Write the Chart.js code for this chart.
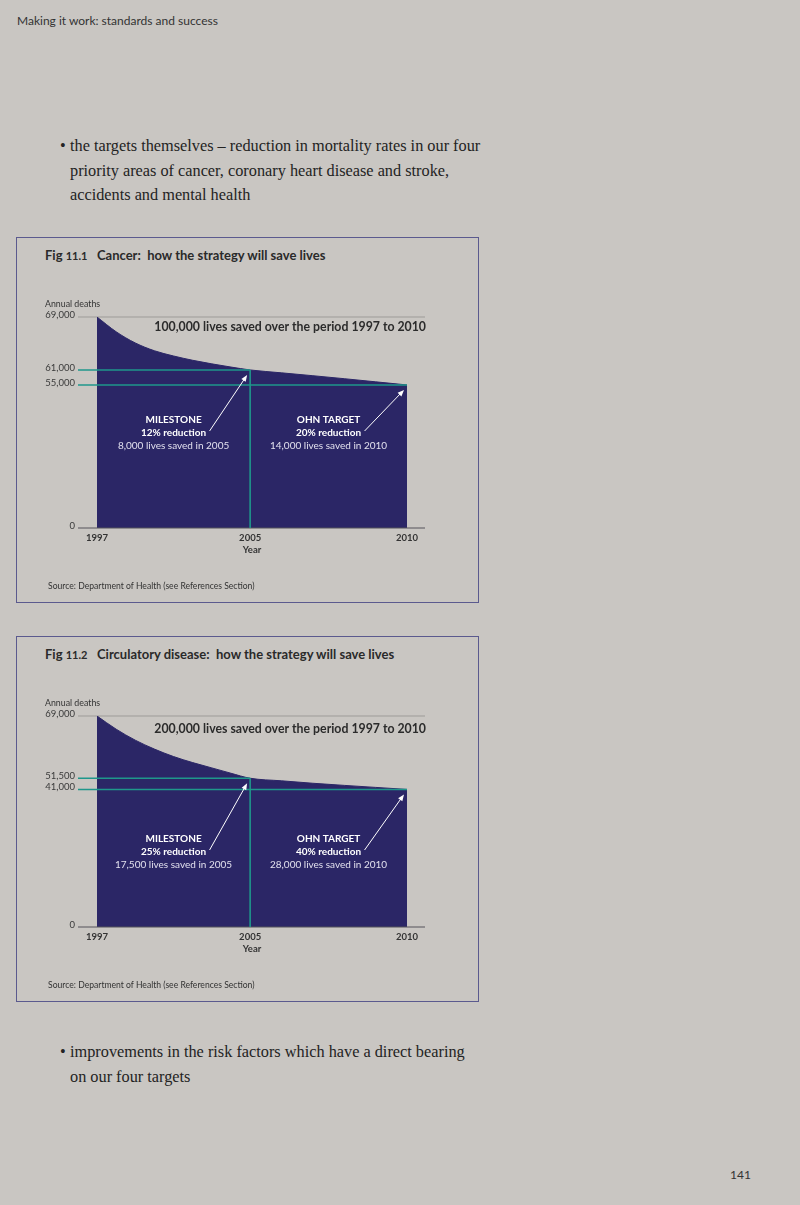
<!DOCTYPE html>
<html>
<head>
<meta charset="utf-8">
<script src="https://cdn.jsdelivr.net/npm/chart.js@4.4.1/dist/chart.umd.min.js"></script>
<style>
  body { margin: 0; width: 800px; height: 1205px; background: #c9c6c2; position: relative; overflow: hidden;
         font-family: Lato, 'Open Sans', sans-serif; color: #2a2a2a; }
  .abs { position: absolute; white-space: nowrap; }
  .header { left: 17px; top: 14px; font-size: 12px; line-height: 14.4px; color: #333; }
  .body { left: 70px; font-family: 'Liberation Serif', serif; font-size: 16.3px; line-height: 24.5px; color: #232323; }
  .bullet { position: absolute; left: -10px; top: 0; }
  .box { position: absolute; left: 16px; width: 463px; height: 366px; box-sizing: border-box; border: 1.5px solid #5b5a8e; }
  .ftitle { left: 45px; font-size: 13px; font-weight: bold; line-height: 16px; }
  .ftitle .num { display: inline-block; width: 52px; }
  .ftitle .num small { font-size: 11px; }
  .src { left: 48px; font-size: 8.6px; line-height: 11px; color: #333; }
  canvas.fig { position: absolute; left: 17px; width: 461px; height: 364px; }
  .folio { left: 730px; top: 1168px; font-size: 12px; line-height: 14.4px; color: #333; }
</style>
</head>
<body>
<div class="abs header">Making it work: standards and success</div>

<div class="abs body" style="top:134px"><span class="bullet">•</span>the targets themselves – reduction in mortality rates in our four<br>priority areas of cancer, coronary heart disease and stroke,<br>accidents and mental health</div>

<div class="box" style="top:237px"></div>
<div class="abs ftitle" style="top:247px"><span class="num">Fig <small>11.1</small></span>Cancer:&nbsp; how the strategy will save lives</div>
<canvas class="fig" id="cancerChart" width="461" height="364" style="top:238px"></canvas>
<div class="abs src" style="top:581px">Source: Department of Health (see References Section)</div>

<div class="box" style="top:636px"></div>
<div class="abs ftitle" style="top:646px"><span class="num">Fig <small>11.2</small></span>Circulatory disease:&nbsp; how the strategy will save lives</div>
<canvas class="fig" id="circulatoryChart" width="461" height="364" style="top:637px"></canvas>
<div class="abs src" style="top:980px">Source: Department of Health (see References Section)</div>

<div class="abs body" style="top:1040px"><span class="bullet">•</span>improvements in the risk factors which have a direct bearing<br>on our four targets</div>

<div class="abs folio">141</div>

<script>
// Data
const years = [1997, 1998, 1999, 2000, 2001, 2002, 2003, 2004, 2005, 2006, 2007, 2008, 2009, 2010];
const cancerDeaths = [69000, 66770, 65080, 63900, 63110, 62460, 61920, 61440, 61000, 59850, 58700, 57500, 56250, 55000];
const circulatoryDeaths = [69000, 65300, 62200, 59700, 57600, 55900, 54400, 52900, 51500, 49100, 46800, 44800, 42900, 41000];

const yearTicks = [1997, 2005, 2010];
const cancerTicks = [0, 55000, 61000, 69000];
const circulatoryTicks = [0, 41000, 51500, 69000];

const milestoneYear = 2005;
const targetYear = 2010;

const cancerMilestone = ['MILESTONE', '12% reduction', '8,000 lives saved in 2005'];
const cancerTarget = ['OHN TARGET', '20% reduction', '14,000 lives saved in 2010'];
const circulatoryMilestone = ['MILESTONE', '25% reduction', '17,500 lives saved in 2005'];
const circulatoryTarget = ['OHN TARGET', '40% reduction', '28,000 lives saved in 2010'];

const INDIGO = '#2b2666';
const TEAL = '#1f978b';

// The printed axes are not to scale: a linear scale that maps its
// breakpoints onto chosen fractions of the axis, linear in between.
class PiecewiseScale extends Chart.LinearScale {
    static id = 'piecewise';

    fraction(value) {
        const b = this.options.breaks, f = this.options.fractions;
        let i = 1;
        while (i < b.length - 1 && value > b[i]) i++;
        return f[i - 1] + (value - b[i - 1]) / (b[i] - b[i - 1]) * (f[i] - f[i - 1]);
    }

    getPixelForValue(value) {
        if (value === null || value === undefined || isNaN(value)) return NaN;
        return this.getPixelForDecimal(this.fraction(value));
    }

    getValueForPixel(pixel) {
        const d = this.getDecimalForPixel(pixel);
        const b = this.options.breaks, f = this.options.fractions;
        let i = 1;
        while (i < f.length - 1 && d > f[i]) i++;
        return b[i - 1] + (d - f[i - 1]) / (f[i] - f[i - 1]) * (b[i] - b[i - 1]);
    }
}
Chart.register(PiecewiseScale);

function rule(ctx, x1, x2, y, color, width) {
    ctx.save();
    ctx.strokeStyle = color;
    ctx.lineWidth = width;
    ctx.beginPath();
    ctx.moveTo(x1, y);
    ctx.lineTo(x2, y);
    ctx.stroke();
    ctx.restore();
}

function label(ctx, str, x, y, font, color, align) {
    ctx.save();
    ctx.font = font;
    ctx.fillStyle = color;
    ctx.textAlign = align;
    ctx.textBaseline = 'middle';
    ctx.fillText(str, x, y);
    ctx.restore();
}

function arrow(ctx, x1, y1, x2, y2) {
    const a = Math.atan2(y2 - y1, x2 - x1);
    const c = Math.cos(a), s = Math.sin(a);
    ctx.save();
    ctx.strokeStyle = '#ffffff';
    ctx.fillStyle = '#ffffff';
    ctx.lineWidth = 1;
    ctx.beginPath();
    ctx.moveTo(x1, y1);
    ctx.lineTo(x2 - 4 * c, y2 - 4 * s);
    ctx.stroke();
    ctx.beginPath();
    ctx.moveTo(x2, y2);
    ctx.lineTo(x2 - 6.5 * c + 2.6 * s, y2 - 6.5 * s - 2.6 * c);
    ctx.lineTo(x2 - 6.5 * c - 2.6 * s, y2 - 6.5 * s + 2.6 * c);
    ctx.closePath();
    ctx.fill();
    ctx.restore();
}

function notesPlugin(fig) {
    return {
        id: 'figureNotes',
        beforeDatasetsDraw(chart) {
            const { ctx, chartArea: a, scales: { y } } = chart;
            rule(ctx, a.left - 19, a.right + 18, y.getPixelForValue(y.max), '#9d9b98', 1);
        },
        afterDatasetsDraw(chart) {
            const { ctx, chartArea: a, scales: { x, y } } = chart;
            const y0 = y.getPixelForValue(0);
            rule(ctx, a.left - 19, a.right + 18, y0, '#55535a', 1);

            const xs = x.getPixelForValue(years[0]);
            const xm = x.getPixelForValue(milestoneYear);
            const ym = y.getPixelForValue(fig.deaths[years.indexOf(milestoneYear)]);
            const xt = x.getPixelForValue(targetYear);
            const yt = y.getPixelForValue(fig.deaths[years.indexOf(targetYear)]);

            rule(ctx, a.left - 19, xm, ym, TEAL, 1.6);
            rule(ctx, a.left - 19, xt, yt, TEAL, 1.6);
            ctx.save();
            ctx.strokeStyle = TEAL;
            ctx.lineWidth = 1.6;
            ctx.beginPath();
            ctx.moveTo(xm, ym);
            ctx.lineTo(xm, y0);
            ctx.stroke();
            ctx.restore();

            label(ctx, 'Annual deaths', 28, a.top - 13, '8.8px Lato', '#333333', 'left');
            label(ctx, fig.headline, a.right + 19, a.top + fig.headlineDy, 'bold 12.3px Lato', '#2b2b2b', 'right');
            label(ctx, 'Year', (a.left + a.right) / 2, a.bottom + 22, 'bold 9.5px Lato', '#333333', 'center');

            const ly = a.top + fig.noteDy;
            [[fig.milestone, (xs + xm) / 2, xm, ym], [fig.target, (xm + xt) / 2, xt, yt]].forEach(([lines, cx, tx, ty]) => {
                lines.forEach((s, i) => {
                    label(ctx, s, cx, ly + i * 12.8, (i < 2 ? 'bold ' : '') + '10px Lato',
                        i < 2 ? '#ffffff' : '#e2e0ee', 'center');
                });
                arrow(ctx, cx + 36, ly + 11, tx - 3, ty + 5);
            });
        }
    };
}

function makeChart(canvasId, deaths, valueTicks, valueFractions, fig) {
    new Chart(document.getElementById(canvasId), {
        type: 'line',
        data: {
            datasets: [{
                data: years.map((yr, i) => ({ x: yr, y: deaths[i] })),
                fill: 'origin',
                backgroundColor: INDIGO,
                borderColor: INDIGO,
                borderWidth: 1,
                pointRadius: 0,
                cubicInterpolationMode: 'monotone'
            }]
        },
        options: {
            responsive: false,
            animation: false,
            events: [],
            layout: { padding: { top: 79, right: 71, bottom: 0, left: 0 } },
            plugins: { legend: { display: false }, tooltip: { enabled: false } },
            scales: {
                x: {
                    type: 'piecewise',
                    min: yearTicks[0],
                    max: yearTicks[yearTicks.length - 1],
                    breaks: yearTicks,
                    fractions: [0, 0.494, 1],
                    afterBuildTicks: s => { s.ticks = yearTicks.map(v => ({ value: v })); },
                    afterFit: s => { s.height = 74; },
                    grid: { display: false, drawTicks: false },
                    border: { display: false },
                    ticks: {
                        autoSkip: false, maxRotation: 0, padding: 4, color: '#333333',
                        font: { family: 'Lato', size: 9.5, weight: 'bold' },
                        callback: v => String(v)
                    }
                },
                y: {
                    type: 'piecewise',
                    min: valueTicks[0],
                    max: valueTicks[valueTicks.length - 1],
                    breaks: valueTicks,
                    fractions: valueFractions,
                    afterBuildTicks: s => { s.ticks = valueTicks.map(v => ({ value: v })); },
                    afterFit: s => { s.width = 80; },
                    grid: { display: false, drawTicks: false },
                    border: { display: false },
                    ticks: {
                        autoSkip: false, padding: 22, labelOffset: -2, color: '#3a3a3a',
                        font: { family: 'Lato', size: 9.5 },
                        callback: v => v.toLocaleString('en-US')
                    }
                }
            }
        },
        plugins: [notesPlugin(fig)]
    });
}

makeChart('cancerChart', cancerDeaths, cancerTicks, [0, 0.678, 0.749, 1], {
    deaths: cancerDeaths,
    milestone: cancerMilestone,
    target: cancerTarget,
    headline: '100,000 lives saved over the period 1997 to 2010',
    headlineDy: 10,
    noteDy: 103
});

makeChart('circulatoryChart', circulatoryDeaths, circulatoryTicks, [0, 0.652, 0.705, 1], {
    deaths: circulatoryDeaths,
    milestone: circulatoryMilestone,
    target: circulatoryTarget,
    headline: '200,000 lives saved over the period 1997 to 2010',
    headlineDy: 13,
    noteDy: 123
});
</script>
</body>
</html>
